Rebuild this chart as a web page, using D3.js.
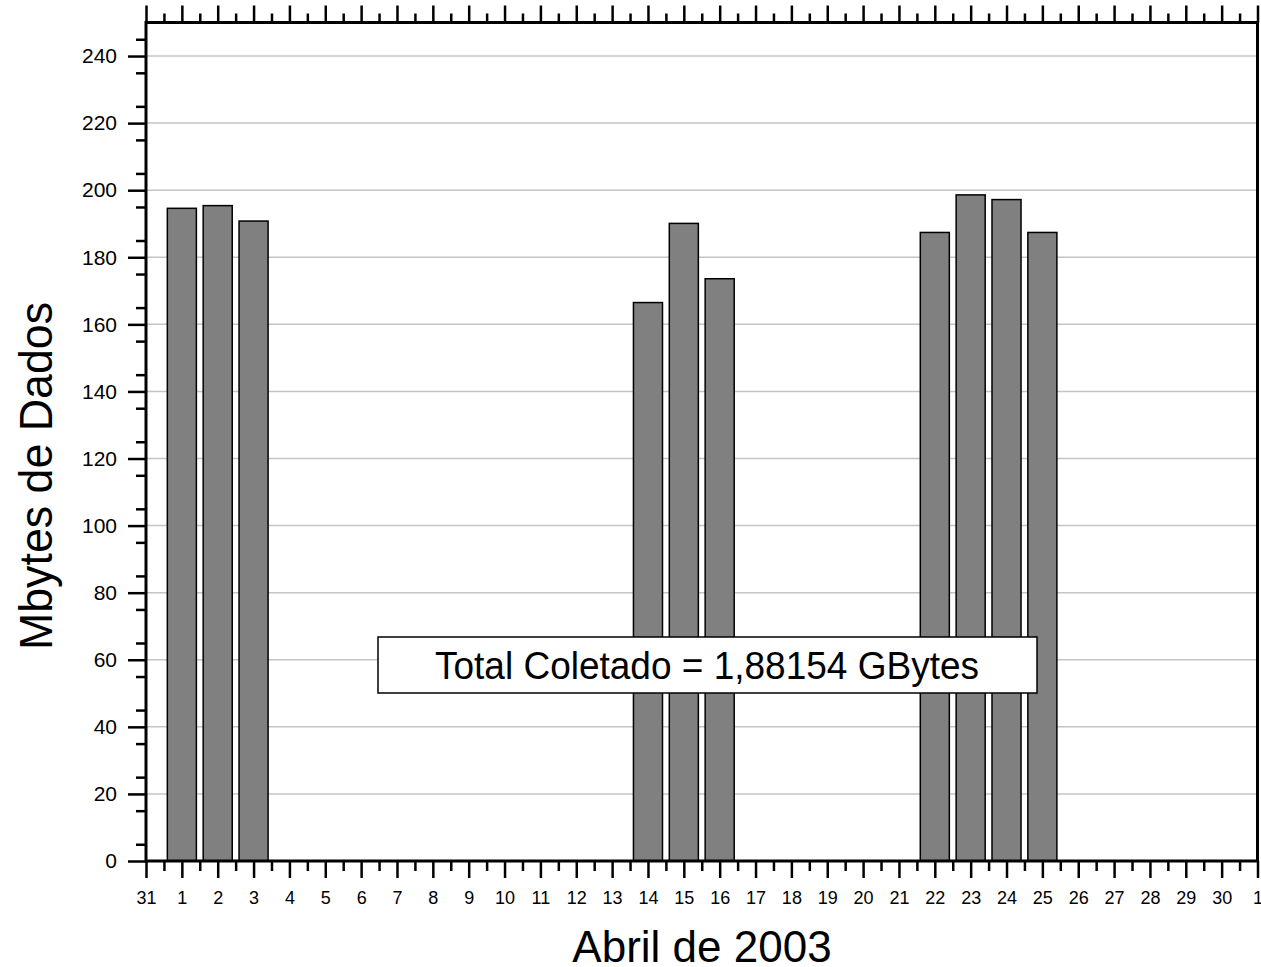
<!DOCTYPE html>
<html>
<head>
<meta charset="utf-8">
<script src="https://cdn.jsdelivr.net/npm/d3@7"></script>
<style>
  html, body { margin: 0; padding: 0; background: #fff; }
  svg { display: block; font-family: Arial, "Liberation Sans", sans-serif; }
</style>
</head>
<body>
<svg id="chart" width="1261" height="967"></svg>
<script>
// Day positions: 0 = 31 March, 1..30 = April days, 31 = 1 May
const dayTickLabels = ["31","1","2","3","4","5","6","7","8","9","10","11","12","13","14","15","16","17","18","19","20","21","22","23","24","25","26","27","28","29","30","1"];
const barDays   = [1, 2, 3, 14, 15, 16, 22, 23, 24, 25];
const barValues = [194.6, 195.4, 190.8, 166.5, 190.1, 173.6, 187.4, 198.6, 197.2, 187.4];
const yTickValues = [0, 20, 40, 60, 80, 100, 120, 140, 160, 180, 200, 220, 240];
const annotationText = "Total Coletado = 1,88154 GBytes";
const xTitle = "Abril de 2003";
const yTitle = "Mbytes de Dados";

const svg = d3.select("#chart");
const plotL = 146, plotR = 1257.5, plotT = 22.5, plotB = 861;

const x = d3.scaleLinear().domain([0, 31]).range([plotL, plotR]);
const y = d3.scaleLinear().domain([0, 250]).range([plotB, plotT]);

// grid
svg.append("g").selectAll("line")
  .data(yTickValues.filter(v => v > 0))
  .join("line")
  .attr("x1", plotL).attr("x2", plotR)
  .attr("y1", d => y(d)).attr("y2", d => y(d))
  .attr("stroke", "#c4c4c4").attr("stroke-width", 1.5);

// bars
const bw = (x(1) - x(0)) * 0.81;
svg.append("g").selectAll("rect")
  .data(barDays.map((d, i) => ({ d, v: barValues[i] })))
  .join("rect")
  .attr("x", p => x(p.d) - bw / 2)
  .attr("width", bw)
  .attr("y", p => y(p.v))
  .attr("height", p => y(0) - y(p.v))
  .attr("fill", "#808080")
  .attr("stroke", "#000")
  .attr("stroke-width", 1.5);

function styleAxis(g, fs) {
  g.select(".domain").remove();
  g.selectAll(".tick line").attr("stroke", "#000").attr("stroke-width", 2.5);
  g.selectAll(".tick text").attr("fill", "#000").style("font-size", fs + "px")
    .style("font-family", "Arial, 'Liberation Sans', sans-serif");
}

const majorDays = d3.range(0, 32);
const minorDays = d3.range(0.5, 31, 1);

// bottom axis
svg.append("g").attr("transform", `translate(0,${plotB})`)
  .call(d3.axisBottom(x).tickValues(majorDays).tickSize(17).tickPadding(13)
    .tickFormat(d => dayTickLabels[d]))
  .call(g => styleAxis(g, 18));
svg.append("g").attr("transform", `translate(0,${plotB})`)
  .call(d3.axisBottom(x).tickValues(minorDays).tickSize(10).tickFormat(""))
  .call(g => styleAxis(g, 18));

// top axis
svg.append("g").attr("transform", `translate(0,${plotT})`)
  .call(d3.axisTop(x).tickValues(majorDays).tickSize(17).tickFormat(""))
  .call(g => styleAxis(g, 18));
svg.append("g").attr("transform", `translate(0,${plotT})`)
  .call(d3.axisTop(x).tickValues(minorDays).tickSize(9).tickFormat(""))
  .call(g => styleAxis(g, 18));

// left axis
svg.append("g").attr("transform", `translate(${plotL},0)`)
  .call(d3.axisLeft(y).tickValues(yTickValues).tickSize(18).tickPadding(11))
  .call(g => styleAxis(g, 21));
svg.append("g").attr("transform", `translate(${plotL},0)`)
  .call(d3.axisLeft(y).tickValues(d3.range(5, 250, 10)).tickSize(10).tickFormat(""))
  .call(g => styleAxis(g, 21));

// frame
svg.append("rect")
  .attr("x", plotL).attr("y", plotT)
  .attr("width", plotR - plotL).attr("height", plotB - plotT)
  .attr("fill", "none").attr("stroke", "#000").attr("stroke-width", 3);

// annotation box
svg.append("rect")
  .attr("x", 378).attr("y", 637).attr("width", 659).attr("height", 56)
  .attr("fill", "#fff").attr("stroke", "#000").attr("stroke-width", 1.5);
svg.append("text")
  .attr("x", 707).attr("y", 679)
  .attr("text-anchor", "middle")
  .attr("textLength", 544).attr("lengthAdjust", "spacingAndGlyphs")
  .style("font-size", "38px")
  .text(annotationText);

// axis titles
svg.append("text")
  .attr("x", 702).attr("y", 962)
  .attr("text-anchor", "middle")
  .style("font-size", "44px")
  .text(xTitle);
svg.append("text")
  .attr("transform", "translate(52,476) rotate(-90)")
  .attr("text-anchor", "middle")
  .attr("textLength", 348).attr("lengthAdjust", "spacingAndGlyphs")
  .style("font-size", "46px")
  .text(yTitle);
</script>
</body>
</html>
